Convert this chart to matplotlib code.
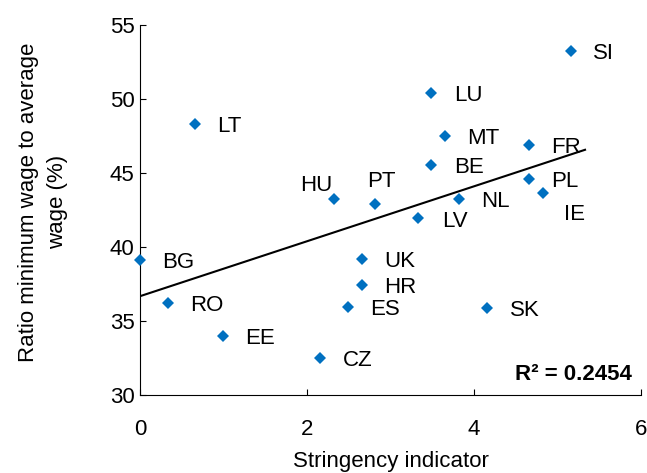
import numpy as np
import matplotlib as mpl
mpl.use('Agg')
import matplotlib.pyplot as plt

countries = ['SI', 'LU', 'LT', 'MT', 'FR', 'BE', 'PL', 'IE', 'HU', 'NL',
             'PT', 'LV', 'BG', 'UK', 'HR', 'RO', 'ES', 'SK', 'EE', 'CZ']
stringency = [5.16, 3.49, 0.66, 3.65, 4.66, 3.49, 4.66, 4.83, 2.32, 3.82,
              2.82, 3.33, 0.00, 2.66, 2.66, 0.33, 2.49, 4.16, 0.99, 2.16]
ratio = [53.2, 50.4, 48.3, 47.5, 46.9, 45.5, 44.55, 43.65, 43.25, 43.25,
         42.9, 41.95, 39.1, 39.2, 37.4, 36.2, 35.95, 35.9, 34.0, 32.5]

# label offsets (points) from each marker
label_offsets = {'HU': (-1, 11, 'right'), 'PT': (-6, 18, 'left'), 'IE': (15, -14, 'left'),
                 'LV': (17, -1, 'left')}

trend_end = 5.33

plt.rcParams['font.family'] = ['Liberation Sans', 'DejaVu Sans']
fs = 16

fig = plt.figure(figsize=(6.47, 4.73), dpi=100)
ax = fig.add_axes([0.2164, 0.1649, 0.7743, 0.7829])

x = np.array(stringency)
y = np.array(ratio)
slope, icpt = np.polyfit(x, y, 1)
tx = np.array([0, trend_end])
ax.plot(tx, slope * tx + icpt, color='black', lw=1.5, zorder=2)

ax.plot(x, y, linestyle='none', marker='D', markersize=6, color='#0070C0',
        markeredgewidth=0, zorder=3, clip_on=False)

for c, xi, yi in zip(countries, stringency, ratio):
    dx, dy, ha = label_offsets.get(c, (16, 0, 'left'))
    ax.annotate(c, (xi, yi), xytext=(dx, dy), textcoords='offset points',
                ha=ha, va='center_baseline', fontsize=fs)

ax.text(0.981, 0.063, 'R² = 0.2454', transform=ax.transAxes, ha='right',
        va='center_baseline', fontsize=fs, fontweight='bold')

ax.set_xlim(0, 6)
ax.set_ylim(30, 55)
ax.set_xticks([0, 2, 4, 6])
ax.set_yticks([30, 35, 40, 45, 50, 55])
ax.tick_params(direction='in', length=4, labelsize=fs)
ax.tick_params(axis='x', pad=17)
ax.tick_params(axis='y', pad=4)
ax.spines['top'].set_visible(False)
ax.spines['right'].set_visible(False)
ax.set_xlabel('Stringency indicator', fontsize=fs, labelpad=8)
ax.set_ylabel('Ratio minimum wage to average\nwage (%)', fontsize=fs, linespacing=1.5)
ax.yaxis.set_label_coords(-0.144, 0.521)

plt.savefig('out.png', dpi=100)
